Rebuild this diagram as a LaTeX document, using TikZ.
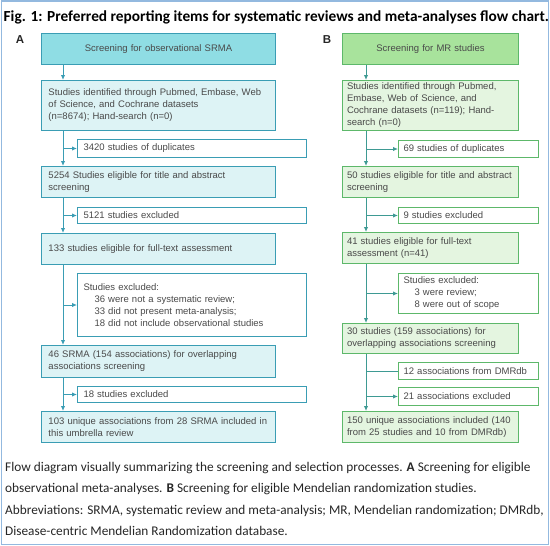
\documentclass[tikz,border=0pt]{standalone}
\usepackage{fontspec}
\setmainfont{Liberation Sans}
\newfontfamily\capfont{Carlito}
\usetikzlibrary{arrows.meta}
\definecolor{edgeA}{HTML}{3A9DB4}
\definecolor{fillA}{HTML}{DDF3F5}
\definecolor{headA}{HTML}{8FDDE4}
\definecolor{edgeB}{HTML}{5DB86A}
\definecolor{fillB}{HTML}{E4F5E0}
\definecolor{headB}{HTML}{A8E39C}
\definecolor{lineB}{HTML}{3E9A93}
\definecolor{frameblue}{HTML}{93B9DF}
\definecolor{boxtext}{HTML}{4A4A4A}
\tikzset{
  box/.style={line width=1pt, anchor=north west, align=left, inner xsep=7pt,
    inner ysep=2pt, text=boxtext, font=\fontsize{9.5}{12}\selectfont},
  boxA/.style={box, draw=edgeA, fill=fillA, minimum width=234pt, text width=220pt},
  topA/.style={boxA, fill=headA, align=center},
  sideA/.style={box, draw=edgeA, fill=white, inner xsep=6pt, minimum width=229pt, text width=217pt},
  boxB/.style={box, draw=edgeB, fill=fillB, inner xsep=4.5pt, minimum width=176pt, text width=167pt},
  topB/.style={boxB, fill=headB, align=center},
  sideB/.style={box, draw=edgeB, fill=white, inner xsep=5pt, minimum width=140pt, text width=130pt},
  arrA/.style={draw=edgeA, line width=1pt, -{Latex[length=5pt,width=4.5pt]}},
  arrB/.style={draw=lineB, line width=1pt, -{Latex[length=5pt,width=4.5pt]}},
  lab/.style={font=\bfseries\fontsize{11.5}{13}\selectfont, text=black!85}
}
\begin{document}
\begin{tikzpicture}[x=1pt,y=-1pt]
\useasboundingbox (0,0) rectangle (550,546);
\draw[frameblue, line width=1.5pt] (1.5,1) rectangle (548.5,544.5);

% title
\node[anchor=base west, inner sep=0, font=\capfont\bfseries\fontsize{15.35}{18}\selectfont] (title) at (3.5,21)
  {Fig. 1: Preferred reporting items for systematic reviews and meta-analyses flow chart.};

% panel A
\node[lab] (labA) at (20,40) {A};
\coordinate (tA) at (63,0);
\node[topA, minimum height=31pt] (a0) at (41,33) {Screening for observational SRMA};
\node[boxA, minimum height=50pt] (a1) at (41,80) {Studies identified through Pubmed, Embase, Web\\of Science, and Cochrane datasets\\(n=8674); Hand-search (n=0)};
\node[boxA, minimum height=31pt] (a2) at (41,166) {5254 Studies eligible for title and abstract\\screening};
\node[boxA, minimum height=31pt] (a3) at (41,233) {133 studies eligible for full-text assessment};
\node[boxA, minimum height=32pt] (a4) at (41,345) {46 SRMA (154 associations) for overlapping\\associations screening};
\node[boxA, minimum height=31pt] (a5) at (41,411) {103 unique associations from 28 SRMA included in\\this umbrella review};

\node[sideA, minimum height=18pt] (xa1) at (77,139) {3420 studies of duplicates};
\node[sideA, minimum height=16pt] (xa2) at (77,207) {5121 studies excluded};
\node[sideA, minimum height=63pt] (xa3) at (77,273) {Studies excluded:\\\hspace*{11pt}36 were not a systematic review;\\\hspace*{11pt}33 did not present meta-analysis;\\\hspace*{11pt}18 did not include observational studies};
\node[sideA, minimum height=16pt] (xa4) at (77,386) {18 studies excluded};

\draw[arrA] (a0.south -| tA) -- (a1.north -| tA);
\draw[arrA] (a1.south -| tA) -- (a2.north -| tA);
\draw[arrA] (a2.south -| tA) -- (a3.north -| tA);
\draw[arrA] (a3.south -| tA) -- (a4.north -| tA);
\draw[arrA] (a4.south -| tA) -- (a5.north -| tA);
\draw[arrA] (xa1.west -| tA) -- (xa1.west);
\draw[arrA] (xa2.west -| tA) -- (xa2.west);
\draw[arrA] (xa3.west -| tA) -- (xa3.west);
\draw[arrA] (xa4.west -| tA) -- (xa4.west);

% panel B
\node[lab] (labB) at (327,40) {B};
\coordinate (tB) at (366,0);
\node[topB, minimum height=31pt] (b0) at (342,33) {Screening for MR studies};
\node[boxB, minimum height=50pt] (b1) at (342,80) {Studies identified through Pubmed,\\Embase, Web of Science, and\\Cochrane datasets (n=119); Hand-\\search (n=0)};
\node[boxB, minimum height=31pt] (b2) at (342,166) {50 studies eligible for title and abstract\\screening};
\node[boxB, minimum height=31pt] (b3) at (342,232) {41 studies eligible for full-text\\assessment (n=41)};
\node[boxB, minimum height=30pt] (b4) at (342,323) {30 studies (159 associations) for\\overlapping associations screening};
\node[boxB, minimum height=31pt] (b5) at (342,411) {150 unique associations included (140\\from 25 studies and 10 from DMRdb)};

\node[sideB, minimum height=17pt] (xb1) at (398,140) {69 studies of duplicates};
\node[sideB, minimum height=16pt] (xb2) at (398,207) {9 studies excluded};
\node[sideB, minimum height=40pt] (xb3) at (398,273) {Studies excluded:\\\hspace*{11pt}3 were review;\\\hspace*{11pt}8 were out of scope};
\node[sideB, minimum height=17pt] (xb4) at (398,362) {12 associations from DMRdb};
\node[sideB, minimum height=18pt] (xb5) at (398,387) {21 associations excluded};

\draw[arrB] (b0.south -| tB) -- (b1.north -| tB);
\draw[arrB] (b1.south -| tB) -- (b2.north -| tB);
\draw[arrB] (b2.south -| tB) -- (b3.north -| tB);
\draw[arrB] (b3.south -| tB) -- (b4.north -| tB);
\draw[arrB] (b4.south -| tB) -- (b5.north -| tB);
\draw[arrB] (xb1.west -| tB) -- (xb1.west);
\draw[arrB] (xb2.west -| tB) -- (xb2.west);
\draw[arrB] (xb3.west -| tB) -- (xb3.west);
\draw[lineB, line width=1pt] (xb4.west) -- (xb4.west -| tB);
\draw[arrB] (xb5.west -| tB) -- (xb5.west);

% caption
\tikzset{capline/.style={anchor=base west, inner sep=0, text=black!85, font=\capfont\fontsize{13.3}{16}\selectfont}}
\node[capline] (cap1) at (5,471) {Flow diagram visually summarizing the screening and selection processes. \textbf{A} Screening for eligible};
\node[capline] (cap2) at (5,492.5) {observational meta-analyses. \textbf{B} Screening for eligible Mendelian randomization studies.};
\node[capline] (cap3) at (5,514) {Abbreviations: SRMA, systematic review and meta-analysis; MR, Mendelian randomization; DMRdb,};
\node[capline] (cap4) at (5,535.5) {Disease-centric Mendelian Randomization database.};
\end{tikzpicture}
\end{document}
